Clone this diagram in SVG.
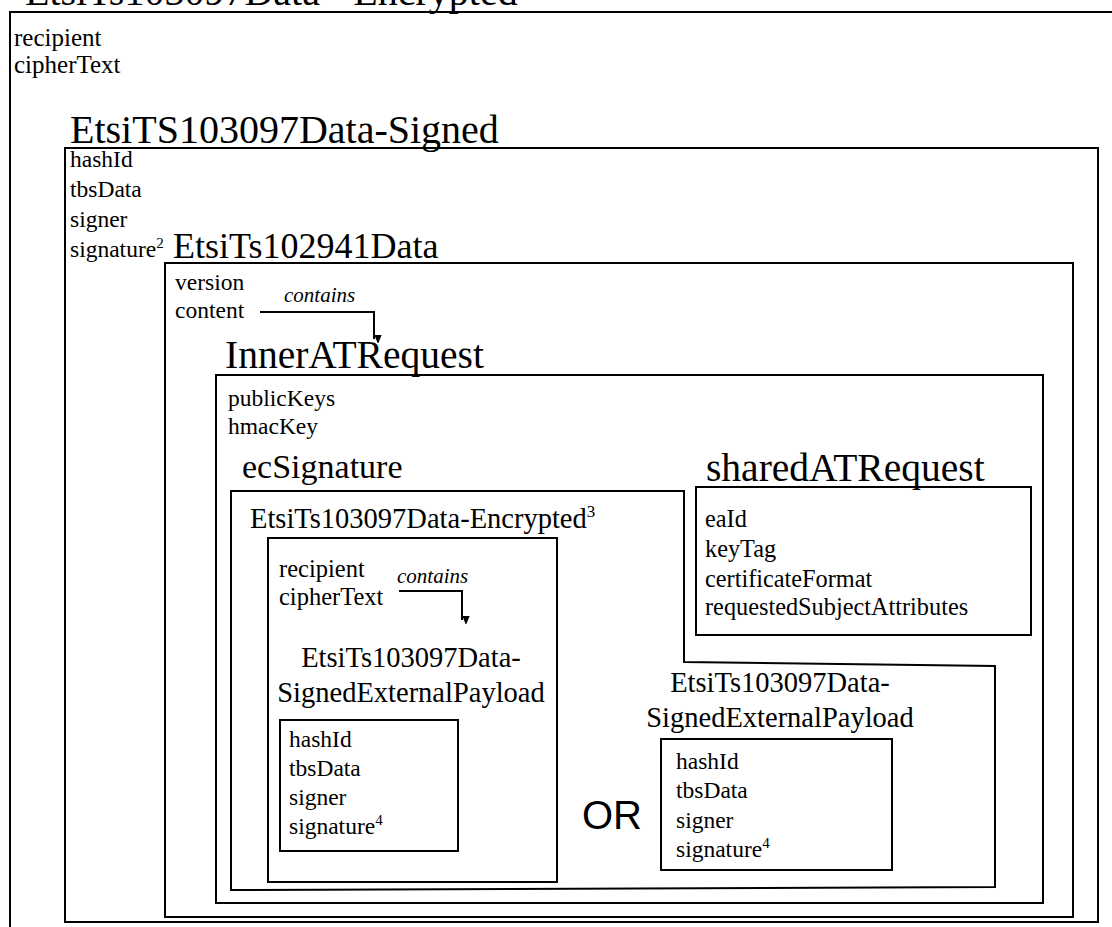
<svg xmlns="http://www.w3.org/2000/svg" width="1112" height="927" viewBox="0 0 1112 927">
<style>
.box{fill:none;stroke:#000;stroke-width:2}
.t{font-family:"Liberation Serif","Times New Roman",serif;fill:#000}
.f{font-size:23.5px}
.h{font-size:40px}
.m{font-size:28.5px}
.i{font-size:21px;font-style:italic}
.or{font-family:"Liberation Sans",Arial,sans-serif;font-size:40px;fill:#000}
.c{fill:none;stroke:#000;stroke-width:2}
</style>
<defs>
<marker id="ah" markerWidth="8" markerHeight="10" refX="4" refY="9" orient="auto" markerUnits="userSpaceOnUse" viewBox="0 0 8 10">
<path d="M0,0 L8,0 L4,10 Z" fill="#000" transform="rotate(-90 4 5)"/>
</marker>
</defs>
<rect width="1112" height="927" fill="#fff"/>

<g id="encrypted-outer">
<rect class="box" x="10" y="12" width="1110" height="930"/>
<text class="t h" x="25" y="5">EtsiTs103097Data - Encrypted</text>
<text class="t" font-size="25" x="14" y="46">recipient</text>
<text class="t" font-size="25" x="14" y="73">cipherText</text>
</g>

<g id="signed">
<rect class="box" x="65" y="148" width="1033" height="774"/>
<text class="t h" x="70" y="143">EtsiTS103097Data-Signed</text>
<text class="t f" x="70" y="167">hashId</text>
<text class="t f" x="70" y="197">tbsData</text>
<text class="t f" x="70" y="227">signer</text>
<text class="t f" x="70" y="257">signature<tspan font-size="15" dy="-9">2</tspan></text>
</g>

<g id="etsi102941">
<rect class="box" x="165" y="263" width="908" height="654"/>
<text class="t" font-size="36" x="173" y="258">EtsiTs102941Data</text>
<text class="t f" x="175" y="290">version</text>
<text class="t f" x="175" y="318">content</text>
</g>

<g id="inner-at-request">
<rect class="box" x="216" y="375" width="827" height="528"/>
<text class="t" font-size="39.5" x="225" y="368">InnerATRequest</text>
<text class="t f" x="228" y="406">publicKeys</text>
<text class="t f" x="228" y="434">hmacKey</text>
</g>

<g id="ec-signature">
<path class="box" d="M231,491 L684,491 L684,662 L995,666 L995,887 L231,890 Z"/>
<text class="t" font-size="34" x="242" y="478">ecSignature</text>
</g>

<g id="encrypted-inner">
<text class="t m" x="250" y="528">EtsiTs103097Data-Encrypted<tspan font-size="17" dy="-11">3</tspan></text>
<rect class="box" x="268" y="538" width="289" height="344"/>
<text class="t" font-size="24.5" x="279" y="577">recipient</text>
<text class="t" font-size="24.5" x="279" y="605">cipherText</text>
</g>

<g id="sep-left">
<text class="t m" x="411" y="667" text-anchor="middle">EtsiTs103097Data-</text>
<text class="t m" x="411" y="702" text-anchor="middle">SignedExternalPayload</text>
<rect class="box" x="280" y="720" width="178" height="131"/>
<text class="t f" x="289" y="747">hashId</text>
<text class="t f" x="289" y="776">tbsData</text>
<text class="t f" x="289" y="805">signer</text>
<text class="t f" x="289" y="834">signature<tspan font-size="15" dy="-9">4</tspan></text>
</g>

<g id="shared-at-request">
<text class="t" font-size="39.5" x="706" y="481">sharedATRequest</text>
<rect class="box" x="696" y="487" width="335" height="148"/>
<text class="t" font-size="24.3" x="705" y="527">eaId</text>
<text class="t" font-size="24.3" x="705" y="557">keyTag</text>
<text class="t" font-size="24.3" x="705" y="587">certificateFormat</text>
<text class="t" font-size="24.3" x="705" y="615">requestedSubjectAttributes</text>
</g>

<g id="or-label">
<text class="or" x="582" y="829">OR</text>
</g>

<g id="sep-right">
<text class="t m" x="780" y="692" text-anchor="middle">EtsiTs103097Data-</text>
<text class="t m" x="780" y="727" text-anchor="middle">SignedExternalPayload</text>
<rect class="box" x="661" y="739" width="231" height="131"/>
<text class="t f" x="676" y="769">hashId</text>
<text class="t f" x="676" y="798">tbsData</text>
<text class="t f" x="676" y="828">signer</text>
<text class="t f" x="676" y="857">signature<tspan font-size="15" dy="-9">4</tspan></text>
</g>

<g id="connectors">
<path class="c" d="M260,312 L374,312 L374,339" marker-end="url(#ah)"/>
<text class="t i" x="284" y="302">contains</text>
<path class="c" d="M399,591 L462,591 L462,620" marker-end="url(#ah)"/>
<text class="t i" x="397" y="583">contains</text>
</g>
</svg>
